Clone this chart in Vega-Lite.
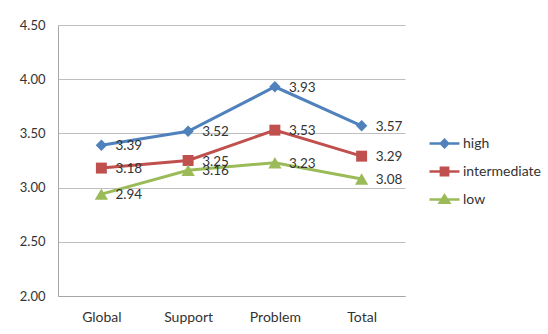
{
  "$schema": "https://vega.github.io/schema/vega-lite/v6.json",
  "autosize": "none",
  "width": 347,
  "height": 271,
  "padding": {"left": 58, "top": 25, "right": 143, "bottom": 38},
  "background": "white",
  "config": {
    "font": "Lato",
    "view": {"stroke": null},
    "axis": {"labelFont": "Lato", "labelFontSize": 13, "labelColor": "#333333", "domainColor": "#a6a6a6", "gridColor": "#bfbfbf", "ticks": false, "title": null}
  },
  "data": {
    "values": [
      {"category": "Global", "series": "high", "value": 3.39},
      {"category": "Support", "series": "high", "value": 3.52},
      {"category": "Problem", "series": "high", "value": 3.93},
      {"category": "Total", "series": "high", "value": 3.57},
      {"category": "Global", "series": "intermediate", "value": 3.18},
      {"category": "Support", "series": "intermediate", "value": 3.25},
      {"category": "Problem", "series": "intermediate", "value": 3.53},
      {"category": "Total", "series": "intermediate", "value": 3.29},
      {"category": "Global", "series": "low", "value": 2.94},
      {"category": "Support", "series": "low", "value": 3.16},
      {"category": "Problem", "series": "low", "value": 3.23},
      {"category": "Total", "series": "low", "value": 3.08}
    ]
  },
  "encoding": {
    "x": {"field": "category", "type": "ordinal", "sort": ["Global", "Support", "Problem", "Total"],
      "scale": {"type": "point", "padding": 0.5},
      "axis": {"labelAngle": 0, "labelPadding": 14, "labelFontSize": 14, "grid": false}},
    "y": {"field": "value", "type": "quantitative",
      "scale": {"domain": [2, 4.5], "nice": false, "zero": false},
      "axis": {"values": [2, 2.5, 3, 3.5, 4, 4.5], "format": ".2f", "labelPadding": 13, "grid": true}}
  },
  "layer": [
    {
      "mark": {"type": "line", "strokeWidth": 3},
      "encoding": {
        "color": {"field": "series", "type": "nominal",
          "scale": {"domain": ["high", "intermediate", "low"], "range": ["#4F81BD", "#C0504D", "#9BBB59"]},
          "legend": {
            "title": null, "orient": "none", "legendX": 371, "legendY": 103,
            "padding": 0, "labelFontSize": 14, "labelColor": "#333333", "labelFont": "Lato", "labelOffset": 3,
            "symbolSize": 784, "rowPadding": 3,
            "encode": {"symbols": {"update": {
              "shape": {"signal": "datum.value === 'high' ? 'M-1.07,0H1.07M0,-0.26L0.26,0L0,0.26L-0.26,0Z' : datum.value === 'intermediate' ? 'M-1.07,0H1.07M-0.26,-0.26H0.26V0.26H-0.26Z' : 'M-1.07,0H1.07M0,-0.3L0.34,0.24H-0.34Z'"},
              "fill": {"signal": "scale('color', datum.value)"},
              "stroke": {"signal": "scale('color', datum.value)"},
              "strokeWidth": {"value": 2.5},
              "opacity": {"value": 1}
            }}}
          }}
      }
    },
    {
      "transform": [{"filter": "datum.series === 'high'"}],
      "mark": {"type": "point", "filled": true, "opacity": 1, "shape": "diamond", "size": 130},
      "encoding": {"color": {"field": "series", "type": "nominal"}}
    },
    {
      "transform": [{"filter": "datum.series === 'intermediate'"}],
      "mark": {"type": "point", "filled": true, "opacity": 1, "shape": "square", "size": 120},
      "encoding": {"color": {"field": "series", "type": "nominal"}}
    },
    {
      "transform": [{"filter": "datum.series === 'low'"}],
      "mark": {"type": "point", "filled": true, "opacity": 1, "shape": "triangle-up", "size": 175},
      "encoding": {"color": {"field": "series", "type": "nominal"}}
    },
    {
      "mark": {"type": "text", "align": "left", "baseline": "middle", "dx": 14, "dy": 1, "fontSize": 13.5, "font": "Lato", "color": "#333333"},
      "encoding": {
        "text": {"field": "value", "type": "quantitative", "format": ".2f"}
      }
    }
  ]
}
